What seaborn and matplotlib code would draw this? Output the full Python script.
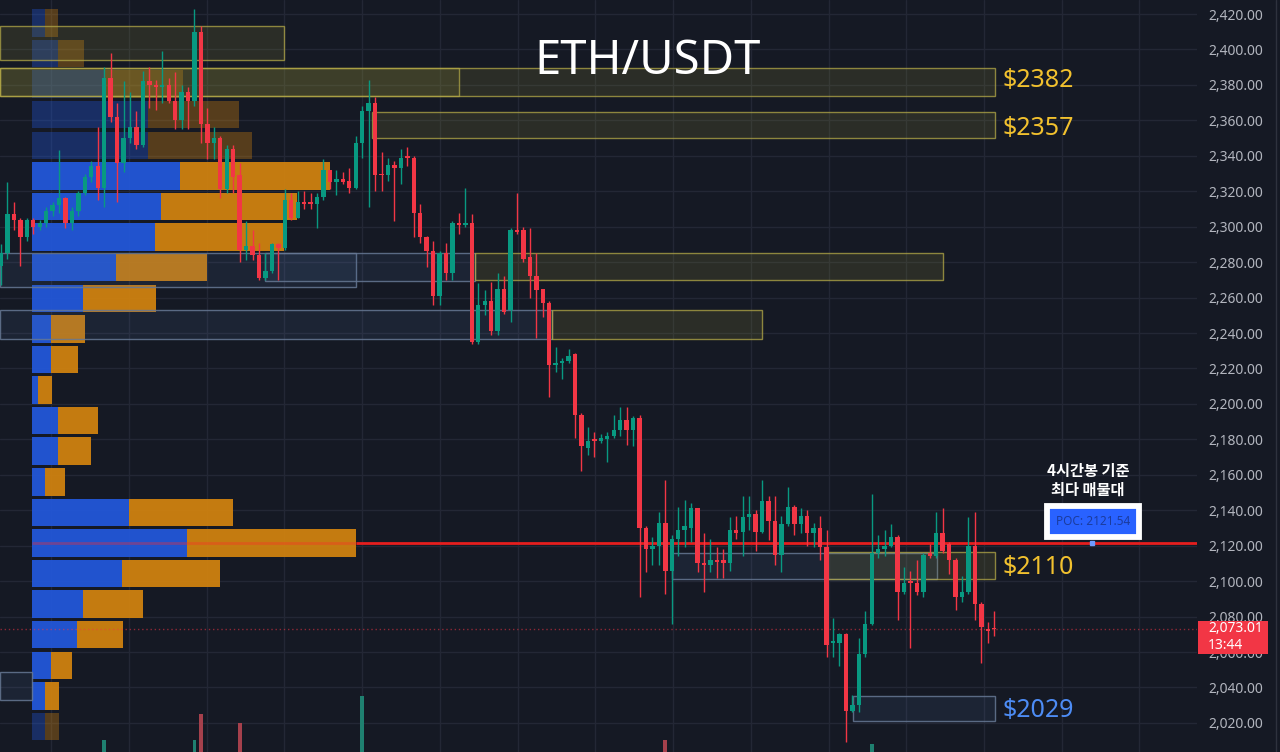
import numpy as np
import pandas as pd
import matplotlib
matplotlib.use("Agg")
import matplotlib.pyplot as plt
import matplotlib.transforms as mtransforms
from matplotlib.patches import Rectangle
from matplotlib.lines import Line2D
import seaborn as sns

# ---------------- data ----------------
opens = [2278, 2285, 2307, 2304, 2294, 2304, 2300, 2302, 2309, 2312,
         2316, 2302, 2309, 2319, 2328, 2334, 2322, 2384, 2362, 2336,
         2350, 2356, 2346, 2382, 2380, 2379, 2380, 2371, 2360, 2376,
         2371, 2410, 2358, 2347, 2350, 2321, 2344, 2329, 2287, 2289,
         2284, 2271, 2275, 2290, 2288, 2315, 2305, 2314, 2314, 2313,
         2317, 2332, 2325, 2327, 2326, 2322, 2347, 2365, 2370, 2330,
         2329, 2335, 2333, 2340, 2339, 2308, 2294, 2286, 2261, 2285,
         2274, 2302, 2301, 2302, 2235, 2256, 2258, 2241, 2265, 2253,
         2298, 2298, 2283, 2272, 2265, 2257, 2222, 2223, 2224, 2228,
         2194, 2175, 2180, 2179, 2180, 2182, 2185, 2191, 2185, 2192,
         2130, 2118, 2120, 2133, 2106, 2124, 2129, 2130, 2141, 2110,
         2109, 2112, 2112, 2110, 2129, 2128, 2136, 2138, 2128, 2145,
         2134, 2115, 2132, 2142, 2132, 2137, 2127, 2130, 2119, 2065,
         2065, 2070, 2027, 2030, 2059, 2076, 2116, 2118, 2120, 2125,
         2094, 2100, 2099, 2094, 2116, 2114, 2127, 2121, 2112, 2091,
         2094, 2120, 2087, 2073, 2073.6]
highs = [2290, 2325, 2314, 2305, 2305, 2305, 2304, 2311, 2314, 2343,
         2317, 2311, 2320, 2330, 2337, 2356, 2390, 2398, 2370, 2382,
         2376, 2365, 2388, 2390, 2383, 2399, 2384, 2387, 2380, 2379,
         2423, 2413, 2367, 2356, 2351, 2346, 2346, 2336, 2303, 2298,
         2291, 2285, 2291, 2291, 2321, 2319, 2320, 2320, 2319, 2319,
         2338, 2332, 2332, 2331, 2333, 2351, 2368, 2383, 2373, 2342,
         2339, 2337, 2344, 2345, 2340, 2313, 2295, 2292, 2286, 2291,
         2303, 2308, 2322, 2307, 2268, 2264, 2269, 2274, 2272, 2299,
         2319, 2300, 2299, 2285, 2265, 2258, 2232, 2226, 2231, 2229,
         2195, 2187, 2184, 2183, 2184, 2194, 2198, 2198, 2193, 2194,
         2131, 2125, 2139, 2157, 2126, 2142, 2146, 2144, 2141, 2127,
         2124, 2119, 2118, 2136, 2137, 2148, 2148, 2140, 2157, 2148,
         2148, 2137, 2153, 2143, 2141, 2140, 2133, 2137, 2129, 2079,
         2071, 2071, 2036, 2068, 2083, 2149, 2126, 2129, 2132, 2126,
         2108, 2106, 2112, 2116, 2121, 2139, 2141, 2122, 2113, 2103,
         2136, 2139, 2088, 2077, 2083]
lows = [2267, 2282, 2298, 2278, 2292, 2296, 2298, 2300, 2306, 2308,
        2299, 2298, 2306, 2318, 2325, 2315, 2311, 2359, 2314, 2331,
        2347, 2344, 2345, 2367, 2366, 2370, 2370, 2355, 2355, 2355,
        2368, 2347, 2338, 2338, 2316, 2319, 2319, 2280, 2281, 2281,
        2270, 2270, 2274, 2270, 2287, 2304, 2305, 2310, 2310, 2299,
        2315, 2321, 2318, 2324, 2319, 2321, 2339, 2311, 2320, 2320,
        2326, 2303, 2324, 2334, 2294, 2291, 2277, 2256, 2256, 2270,
        2270, 2296, 2300, 2234, 2234, 2250, 2239, 2239, 2251, 2246,
        2296, 2280, 2260, 2237, 2249, 2204, 2218, 2214, 2223, 2181,
        2162, 2171, 2170, 2178, 2167, 2181, 2182, 2177, 2176, 2091,
        2105, 2109, 2109, 2093, 2076, 2114, 2119, 2122, 2105, 2094,
        2105, 2102, 2102, 2106, 2124, 2114, 2129, 2117, 2127, 2123,
        2109, 2105, 2131, 2126, 2127, 2120, 2119, 2112, 2057, 2057,
        2052, 2009, 2026, 2026, 2057, 2075, 2113, 2114, 2119, 2078,
        2093, 2062, 2092, 2091, 2113, 2113, 2116, 2104, 2084, 2088,
        2093, 2078, 2054, 2065, 2069]
closes = [2285, 2307, 2304, 2294, 2304, 2300, 2302, 2309, 2312, 2316,
          2302, 2309, 2319, 2328, 2334, 2322, 2384, 2362, 2336, 2350,
          2356, 2346, 2382, 2380, 2379, 2380, 2371, 2360, 2376, 2371,
          2410, 2358, 2347, 2350, 2321, 2344, 2328, 2287, 2289, 2284,
          2271, 2275, 2290, 2288, 2315, 2305, 2314, 2313, 2313, 2317,
          2332, 2325, 2327, 2325, 2322, 2347, 2365, 2370, 2329, 2329,
          2335, 2333, 2339, 2339, 2308, 2294, 2286, 2261, 2285, 2274,
          2302, 2301, 2302, 2235, 2256, 2258, 2241, 2265, 2252, 2298,
          2297, 2282, 2272, 2264, 2257, 2222, 2223, 2224, 2227, 2194,
          2176, 2179, 2179, 2181, 2182, 2185, 2191, 2185, 2192, 2130,
          2118, 2120, 2133, 2106, 2124, 2129, 2131, 2141, 2110, 2109,
          2112, 2111, 2110, 2129, 2127, 2136, 2138, 2128, 2145, 2134,
          2115, 2132, 2142, 2132, 2137, 2127, 2130, 2119, 2064, 2066,
          2070, 2027, 2030, 2059, 2076, 2116, 2118, 2120, 2125, 2094,
          2099, 2099, 2094, 2115, 2114, 2127, 2117, 2112, 2091, 2094,
          2120, 2087, 2074, 2072, 2073.01]

# volume profile (price level, buy volume, sell volume)
vp_price = [2414.96, 2397.70, 2380.44, 2363.18, 2345.92, 2328.66, 2311.40, 2294.14,
            2276.88, 2259.62, 2242.36, 2225.10, 2207.84, 2190.58, 2173.32, 2156.06,
            2138.80, 2121.54, 2104.28, 2087.02, 2069.76, 2052.50, 2035.24, 2017.98]
vp_buy = [13, 26, 73, 116, 116, 148, 129, 123, 84, 51, 19, 19,
          6, 26, 26, 13, 97, 155, 90, 51, 45, 19, 13, 13]
vp_sell = [13, 26, 78, 91, 104, 150, 136, 129, 91, 73, 34, 27,
           14, 40, 33, 20, 104, 169, 98, 60, 46, 21, 14, 14]
va_high = 2328.66
va_low = 2035.24
poc_price = 2121.54
last_price = 2073.01
countdown = "13:44"

# visible volume bars (candle index, volume)
vol_index = [16, 30, 31, 37, 56, 103, 135]
vol_value = [41.6, 41.6, 45.1, 43.9, 47.4, 41.6, 41.1]

# zones (start / end candle index, low / high price, kind)
zone_start = [-0.2, -0.2, -0.2, 57.5, -0.2, 40.9, 73.5, -0.2, 85.4, 104.0, 128.1, 132.1, -0.2]
zone_end = [43.9, 71.0, 154.1, 154.1, 55.0, 73.5, 146.0, 85.4, 118.0, 145.1, 154.1, 154.1, 4.8]
zone_low = [2394.0, 2373.7, 2373.7, 2350.0, 2266.0, 2269.4, 2270.0, 2236.6, 2236.6,
            2101.2, 2101.2, 2021.1, 2033.0]
zone_high = [2413.2, 2389.5, 2389.5, 2364.7, 2285.2, 2285.2, 2285.2, 2253.0, 2253.0,
             2115.9, 2116.5, 2035.2, 2048.8]
zone_kind = ["supply", "supply", "supply", "supply", "demand", "demand", "supply", "demand",
             "supply", "demand", "supply", "demand", "demand"]

label_text = ["$2382", "$2357", "$2110", "$2029"]
label_price = [2382.6, 2355.6, 2107.5, 2027.0]
label_kind = ["supply", "supply", "supply", "demand"]

price_ticks = [2020, 2040, 2060, 2080, 2100, 2120, 2140, 2160, 2180, 2200, 2220,
               2240, 2260, 2280, 2300, 2320, 2340, 2360, 2380, 2400, 2420]

title = "ETH/USDT"
note = "4시간봉 기준\n최다 매물대"

# ---------------- style ----------------
BG = "#151924"
GRID = "#232735"
TEAL = "#089981"
RED = "#f23645"
BLUE_VP = "#2258dc"
ORANGE_VP = "#d2830f"
GOLD = "#f2c12e"
BLUE_TXT = "#4d8cf5"

sns.set_theme(style="dark", rc={"axes.facecolor": BG, "figure.facecolor": BG,
                                "grid.color": GRID, "axes.edgecolor": BG})
plt.rcParams["font.family"] = ["Noto Sans", "DejaVu Sans"]

W, H = 1280, 752
fig = plt.figure(figsize=(W / 100, H / 100), dpi=100, facecolor=BG)
rect = [0, 0, 1197 / W, 1]
ax = fig.add_axes(rect)
axv = fig.add_axes(rect, sharex=ax)
axp = fig.add_axes(rect, sharey=ax)
axc = fig.add_axes(rect, sharex=ax, sharey=ax)

XLIM = (-0.155, 185.43)
YLIM = (2003.6, 2427.9)

# background axis: grid + price ticks
ax.set_facecolor(BG)
for s in ax.spines.values():
    s.set_visible(False)
ax.set_xticks(np.arange(7.8, 185, 12.05))
ax.set_yticks(price_ticks)
ax.set_yticklabels([f"{p:,.2f}" for p in price_ticks])
ax.yaxis.tick_right()
ax.tick_params(axis="y", length=0, pad=8, labelsize=10, labelcolor="#b2b5be")
ax.tick_params(axis="x", length=0, labelbottom=False)
ax.grid(True, color=GRID, linewidth=1)

# volume histogram (seaborn)
o = np.array(opens, dtype=float)
c = np.array(closes, dtype=float)
vol_dir = ["up" if closes[i] >= opens[i] else "down" for i in vol_index]
vol_df = pd.DataFrame({"idx": vol_index, "vol": vol_value, "dir": vol_dir})
sns.barplot(data=vol_df, x="idx", y="vol", hue="dir", palette={"up": "#1f8070", "down": "#a5404c"},
            native_scale=True, dodge=False, width=0.6, errorbar=None, saturation=1,
            linewidth=0, edgecolor="none", legend=False, ax=axv)
axv.set_ylim(40, 140)
axv.axis("off")

# volume profile
axp.set_xlim(-32, 1165)
for i, p in enumerate(vp_price):
    a = 0.93 if va_low <= p <= va_high else 0.35
    axp.barh(p, vp_buy[i], height=15.5, left=0, color=BLUE_VP, alpha=a, linewidth=0, zorder=2)
    axp.barh(p, vp_sell[i], height=15.5, left=vp_buy[i], color=ORANGE_VP, alpha=a,
             linewidth=0, zorder=2)
poc_i = vp_price.index(poc_price)
poc_end = vp_buy[poc_i] + vp_sell[poc_i]
axp.hlines(poc_price, 0, poc_end, color="#ff2a2a", lw=2, alpha=0.35, zorder=3)
axp.hlines(poc_price, poc_end, 1165, color="#e51e1e", lw=2, zorder=3)
axp.axis("off")

# zones
for x0, x1, lo, hi, kd in zip(zone_start, zone_end, zone_low, zone_high, zone_kind):
    if kd == "supply":
        fc, ec = (0.62, 0.60, 0.22, 0.16), (0.70, 0.66, 0.28, 0.75)
    else:
        fc, ec = (0.32, 0.45, 0.65, 0.13), (0.40, 0.47, 0.58, 0.85)
    axc.add_patch(Rectangle((x0, lo), x1 - x0, hi - lo, facecolor=fc, edgecolor=ec,
                            linewidth=1, zorder=1))

# current price dotted line
axc.axhline(last_price, color=RED, alpha=0.55, lw=1, linestyle=(0, (1, 2)), zorder=2)

# candles
k = np.arange(len(opens))
hi_ = np.array(highs, dtype=float)
lo_ = np.array(lows, dtype=float)
cols = np.where(c >= o, TEAL, RED)
axc.vlines(k, lo_, hi_, colors=cols, lw=1, zorder=3)
axc.bar(k, np.maximum(np.abs(c - o), 0.7), bottom=np.minimum(o, c), width=0.68,
        color=cols, linewidth=0, zorder=4)
axc.axis("off")

# zone labels
for t, p, kd in zip(label_text, label_price, label_kind):
    axc.text(155.3, p, t, color=GOLD if kd == "supply" else BLUE_TXT, fontsize=18,
             va="center", ha="left", zorder=6)

ax.set_ylim(*YLIM)
ax.set_xlim(*XLIM)
axp.set_xlim(-32, 1165)
axv.set_ylim(40, 140)
for a_ in (axv, axp, axc):
    a_.patch.set_visible(False)

# POC box
px = 1.0 / 100  # inches per pixel
blend = mtransforms.blended_transform_factory(axc.transAxes, axc.transData)
poc_tr = blend + mtransforms.ScaledTranslation(0, 21.5 * px, fig.dpi_scale_trans)
axc.text(1093 / 1197, poc_price, f"POC: {poc_price:.2f}", transform=poc_tr,
         ha="center", va="center", fontsize=8.5, color="#1b3c9e", fontweight="bold",
         bbox=dict(boxstyle="square,pad=0.75", fc="#2962ff", ec="white", lw=4.2), zorder=8)
axc.plot([1092 / 1197], [poc_price], marker="s", ms=3, color="#6f9bff", transform=blend,
         clip_on=False, zorder=8)

# annotation
fig.text(1088 / W, 1 - 480 / H, note, ha="center", va="center", fontsize=11,
         fontweight="bold", color="white", linespacing=1.2,
         family=["Noto Sans CJK KR", "DejaVu Sans"])

# title
fig.text(648 / W, 1 - 62 / H, title, ha="center", va="center", fontsize=34,
         fontweight="medium", color="white")

# last price label on the axis
fblend = mtransforms.blended_transform_factory(fig.transFigure, ax.transData)
ppp = (YLIM[1] - YLIM[0]) / H  # price per pixel
box = Rectangle((1198 / W, last_price - 25 * ppp), 70 / W, 33 * ppp, transform=fblend,
                facecolor=RED, edgecolor="none", zorder=10, clip_on=False)
fig.add_artist(box)
fig.text(1208 / W, last_price, f"{last_price:,.2f}", transform=fblend, ha="left",
         va="center", fontsize=10, color="white", zorder=11)
fig.text(1208 / W, last_price - 17 * ppp, countdown, transform=fblend, ha="left",
         va="center", fontsize=10, color="white", zorder=11)

# separator at the right edge
fig.add_artist(Line2D([1275.5 / W, 1275.5 / W], [0, 1], transform=fig.transFigure,
                      color="#2e323e", lw=1))

fig.savefig("out.png", dpi=100, facecolor=BG)
